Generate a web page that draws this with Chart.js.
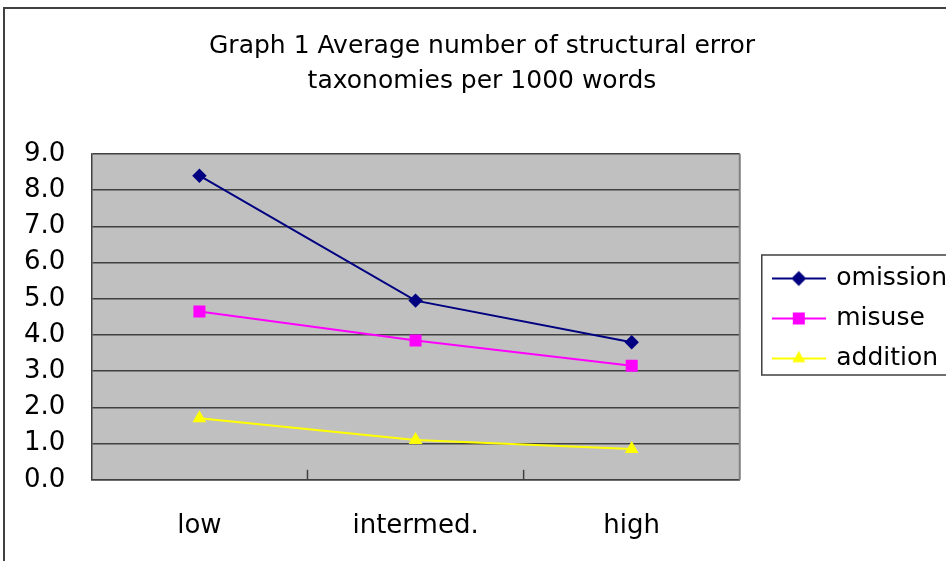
<!DOCTYPE html>
<html>
<head>
<meta charset="utf-8">
<script src="https://cdn.jsdelivr.net/npm/chart.js@4.4.1/dist/chart.umd.min.js"></script>
<style>
  html, body { margin: 0; padding: 0; background: #fff; }
  #wrap { position: relative; width: 946px; height: 561px; overflow: hidden; }
  #frame { position: absolute; left: 3px; top: 7px; width: 1000px; height: 600px; border: 2px solid #404040; box-sizing: border-box; }
  canvas { position: absolute; left: 0; top: 0; }
</style>
</head>
<body>
<div id="wrap">
  <div id="frame"></div>
  <canvas id="chart" width="946" height="561"></canvas>
</div>
<script>
// dados
const levels = ['low', 'intermed.', 'high'];
const omission = [8.4, 4.95, 3.8];
const misuse = [4.65, 3.85, 3.15];
const addition = [1.7, 1.1, 0.85];
const yTicks = [0, 1, 2, 3, 4, 5, 6, 7, 8, 9];
const titleLines = ['Graph 1 Average number of structural error', 'taxonomies per 1000 words'];

const FONT = 'DejaVu Sans';

// ícone da legenda: linha + marcador
function legendIcon(color, style) {
  const c = document.createElement('canvas');
  c.width = 54; c.height = 20;
  const g = c.getContext('2d');
  g.strokeStyle = color; g.lineWidth = 2;
  g.beginPath(); g.moveTo(0, 10); g.lineTo(54, 10); g.stroke();
  g.fillStyle = color;
  Chart.helpers.drawPoint(g, { pointStyle: style, radius: style === 'rect' ? 8.5 : 7.5, borderWidth: 0, rotation: 0 }, 27, 10);
  return c;
}

const series = [
  { label: 'omission', data: omission, color: '#000080', style: 'rectRot', r: 7.2 },
  { label: 'misuse', data: misuse, color: '#ff00ff', style: 'rect', r: 8.5 },
  { label: 'addition', data: addition, color: '#ffff00', style: 'triangle', r: 8 }
];

// fundo cinza e detalhes da área do gráfico
const plotArea = {
  id: 'plotArea',
  beforeDraw(chart) {
    const { ctx, chartArea: a } = chart;
    ctx.save();
    ctx.fillStyle = '#c0c0c0';
    ctx.fillRect(a.left, a.top, a.width, a.height);
    ctx.restore();
  },
  beforeDatasetsDraw(chart) {
    const { ctx, chartArea: a, scales: { x } } = chart;
    ctx.save();
    ctx.strokeStyle = '#808080'; ctx.lineWidth = 2;
    ctx.beginPath(); ctx.moveTo(a.right, a.top); ctx.lineTo(a.right, a.bottom); ctx.stroke();
    ctx.strokeStyle = '#404040'; ctx.lineWidth = 1.5;
    for (let i = 1; i < levels.length; i++) {
      const px = (x.getPixelForValue(i - 1) + x.getPixelForValue(i)) / 2;
      ctx.beginPath(); ctx.moveTo(px, a.bottom); ctx.lineTo(px, a.bottom - 10); ctx.stroke();
    }
    ctx.restore();
  }
};

// posição do título e da legenda, caixa da legenda
const legendBox = {
  id: 'legendBox',
  afterLayout(chart) {
    const t = chart.titleBlock;
    t.left += 14; t.right += 14;
    const lg = chart.legend;
    const w = lg.right - lg.left;
    lg.left = chart.chartArea.right + 19;
    lg.right = lg.left + w;
    const pad = lg.options.labels.padding;
    const startY = (lg.top + pad + lg.bottom - lg.columnSizes[0].height) / 2;
    const dy = 266 - startY;
    lg.top += dy; lg.bottom += dy;
  },
  afterDraw(chart) {
    const { ctx } = chart;
    const hb = chart.legend.legendHitBoxes;
    if (!hb || !hb.length) return;
    const last = hb[hb.length - 1];
    const top = hb[0].top - 11;
    ctx.save();
    ctx.strokeStyle = '#404040'; ctx.lineWidth = 1.5;
    ctx.strokeRect(hb[0].left - 12, top, 400, last.top + last.height + 4 - top);
    ctx.restore();
  }
};

const ctx = document.getElementById('chart').getContext('2d');
const chart = new Chart(ctx, {
  type: 'line',
  data: {
    labels: levels,
    datasets: series.map(s => ({
      label: s.label,
      data: s.data,
      borderColor: s.color,
      backgroundColor: s.color,
      borderWidth: 2,
      pointStyle: s.style,
      pointRadius: s.r,
      pointBorderWidth: 0,
      tension: 0
    }))
  },
  options: {
    responsive: false,
    animation: false,
    layout: { padding: { left: -2, right: 8, top: 0, bottom: -4 } },
    plugins: {
      title: {
        display: true,
        text: titleLines,
        color: '#000',
        font: { family: FONT, size: 25, weight: 'normal', lineHeight: 1.4 },
        padding: { top: 29, bottom: 55 }
      },
      legend: {
        position: 'right',
        labels: {
          usePointStyle: true,
          pointStyleWidth: 50,
          padding: 15,
          color: '#000',
          font: { family: FONT, size: 25 },
          generateLabels(chart) {
            return series.map((s, i) => ({
              text: s.label,
              pointStyle: legendIcon(s.color, s.style),
              fillStyle: s.color,
              strokeStyle: s.color,
              lineWidth: 0,
              hidden: false,
              datasetIndex: i
            }));
          }
        }
      },
      tooltip: { enabled: false }
    },
    scales: {
      x: {
        offset: true,
        grid: { display: false },
        border: { display: true, color: '#404040', width: 1.5 },
        ticks: { color: '#000', padding: 23, font: { family: FONT, size: 26 } }
      },
      y: {
        min: 0,
        max: 9,
        afterBuildTicks(scale) { scale.ticks = yTicks.map(v => ({ value: v })); },
        grid: { color: '#404040', lineWidth: 1.5, drawTicks: false },
        border: { display: true, color: '#404040', width: 1.5 },
        ticks: {
          color: '#000',
          padding: 26,
          font: { family: FONT, size: 26 },
          callback: v => Number(v).toFixed(1)
        }
      }
    }
  },
  plugins: [plotArea, legendBox]
});
</script>
</body>
</html>
